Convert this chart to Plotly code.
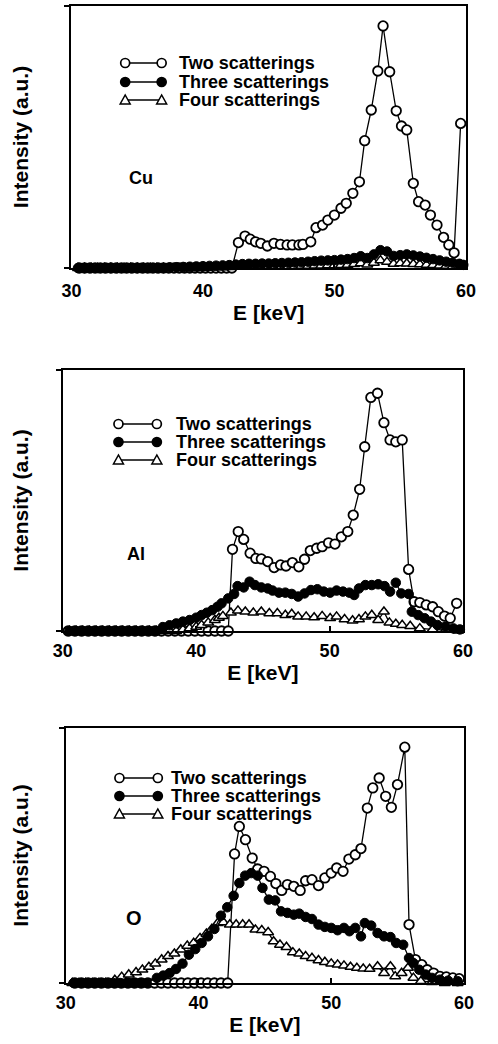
import plotly.graph_objects as go

W, H = 498, 1044

# ---------------- data ----------------
# Cu
cu_two_E = [30.6, 31.0, 31.4, 31.8, 32.2, 32.6, 33.0, 33.4, 33.8, 34.2, 34.6, 35.0, 35.4, 35.8, 36.2,
            36.6, 37.0, 37.4, 37.8, 38.2, 38.6, 39.0, 39.4, 39.8, 40.2, 40.6, 41.0, 41.4, 41.8, 42.2,
            42.7, 43.2, 43.6, 44.0, 44.4, 44.9, 45.4, 45.9, 46.4, 46.8, 47.3, 47.6, 48.2, 48.6, 49.1,
            49.5, 50.0, 50.5, 50.9, 51.4, 51.9, 52.3, 52.8, 53.3, 53.7, 54.2, 54.7, 55.1, 55.5, 56.0,
            56.4, 56.9, 57.3, 57.8, 58.3, 58.7, 59.1, 59.6]
cu_two_I = [0, 0, 0, 0, 0, 0, 0, 0, 0, 0, 0, 0, 0, 0, 0,
            0, 0, 0, 0, 0, 0, 0, 0, 0, 0, 0, 0, 0, 0, 0,
            9.7, 12.2, 11.0, 10.0, 9.4, 8.4, 9.4, 9.0, 8.8, 8.8, 8.8, 9.0, 10.0, 15.4, 16.4,
            18.3, 20.2, 22.8, 24.7, 28.5, 32.9, 48.6, 60.3, 75.2, 92.4, 74.9, 60.0, 54.2, 52.7, 32.3,
            25.3, 24.0, 20.2, 16.4, 11.7, 8.8, 5.8, 55.2]
cu_three_E = [30.5, 31.0, 31.5, 32.0, 32.5, 33.0, 33.5, 34.0, 34.5, 35.0, 35.5, 36.0, 36.5, 37.0,
              37.5, 38.0, 38.5, 39.0, 39.5, 40.0, 40.5, 41.0, 41.5, 42.0, 42.5, 43.0, 43.5, 44.0,
              44.5, 45.0, 45.5, 46.0, 46.5, 47.0, 47.5, 48.0, 48.5, 49.0, 49.5, 50.0, 50.5, 51.0,
              51.5, 52.0, 52.5, 53.0, 53.5, 54.0, 54.5, 55.0, 55.5, 56.0, 56.5, 57.0, 57.5, 58.0,
              58.5, 59.0, 59.5, 59.8]
cu_three_I = [0, 0, 0, 0, 0, 0, 0, 0, 0, 0, 0, 0, 0, 0,
              0.2, 0.3, 0.4, 0.5, 0.6, 0.7, 0.8, 0.9, 1.0, 1.1, 1.3, 1.5, 1.6, 1.6,
              1.7, 1.7, 1.8, 1.9, 2.0, 2.1, 2.2, 2.4, 2.6, 2.8, 2.9, 3.0, 3.2, 3.4,
              3.8, 4.5, 3.8, 5.2, 6.8, 6.3, 4.6, 4.9, 5.2, 4.8, 4.4, 3.9, 3.4, 2.9,
              2.4, 2.0, 1.6, 1.2]
cu_four_E = [30.5, 31.0, 31.5, 32.0, 32.5, 33.0, 33.5, 34.0, 34.5, 35.0, 35.5, 36.0, 36.5, 37.0,
             37.5, 38.0, 38.5, 39.0, 39.5, 40.0, 40.5, 41.0, 41.5, 42.0, 42.5, 43.0, 43.5, 44.0,
             44.5, 45.0, 45.5, 46.0, 46.5, 47.0, 47.5, 48.0, 48.5, 49.0, 49.5, 50.0, 50.5, 51.0,
             51.5, 52.0, 52.5, 53.0, 53.5, 54.0, 54.5, 55.0, 55.5, 56.0, 56.5, 57.0, 57.5, 58.0,
             58.5, 59.0, 59.5]
cu_four_I = [0, 0, 0, 0, 0, 0, 0, 0, 0, 0, 0, 0, 0, 0,
             0, 0, 0, 0, 0, 0, 0.1, 0.2, 0.2, 0.3, 0.4, 0.5, 0.5, 0.5,
             0.6, 0.6, 0.6, 0.7, 0.7, 0.7, 0.8, 0.8, 0.9, 0.9, 1.0, 1.0, 1.1, 1.2,
             1.5, 1.8, 1.3, 2.0, 2.9, 2.3, 1.6, 1.8, 1.7, 1.5, 1.4, 1.2, 1.1, 0.9,
             0.8, 0.6, 0.5]

# Al
al_two_E = [30.4, 30.9, 31.4, 31.9, 32.4, 32.9, 33.4, 33.9, 34.4, 34.9, 35.4, 35.9, 36.4, 36.9,
            37.4, 37.9, 38.4, 38.9, 39.4, 39.9, 40.4, 40.9, 41.4, 41.9, 42.4,
            42.72, 43.15, 43.56, 44.04, 44.47, 44.88, 45.36, 45.84, 46.32, 46.73, 47.21, 47.69,
            48.12, 48.55, 49.03, 49.44, 49.92, 50.40, 50.88, 51.36, 51.77, 52.25, 52.63, 53.09,
            53.59, 54.07, 54.53, 54.96, 55.44, 55.92, 56.33, 56.76, 57.24, 57.72, 58.15, 58.61,
            59.04, 59.52]
al_two_I = [0, 0, 0, 0, 0, 0, 0, 0, 0, 0, 0, 0, 0, 0,
            0, 0, 0, 0, 0, 0, 0, 0, 0, 0, 0,
            31.3, 38.1, 35.1, 29.8, 27.8, 27.6, 26.6, 24.3, 25.3, 24.9, 26.2, 24.6,
            27.5, 30.8, 31.7, 32.3, 33.8, 33.3, 36.1, 38.1, 44.4, 54.3, 70.6, 89.5,
            91.1, 79.8, 73.2, 72.5, 73.2, 23.6, 11.2, 10.9, 10.0, 9.3, 7.4, 5.7,
            4.9, 10.6]
al_three_E = [30.5, 31.0, 31.5, 32.0, 32.5, 33.0, 33.5, 34.0, 34.5, 35.0, 35.5, 36.0, 36.5, 37.0,
              37.5, 38.0, 38.5, 39.0, 39.5, 40.0, 40.4, 40.8, 41.2, 41.6, 41.9, 42.4, 42.84,
              43.1, 43.56, 44.0, 44.4, 44.88, 45.36, 45.72, 46.2, 46.68, 47.16, 47.64, 48.12,
              48.6, 49.08, 49.56, 50.04, 50.52, 51.0, 51.48, 51.84, 52.2, 52.68, 53.16, 53.64,
              54.12, 54.53, 54.96, 55.37, 55.92, 56.16, 56.64, 57.12, 57.6, 58.08, 58.68, 59.28,
              59.76]
al_three_I = [0, 0, 0, 0, 0, 0, 0, 0, 0, 0, 0, 0, 0, 0,
              1.5, 2.2, 2.9, 3.6, 4.2, 5.1, 6.1, 7.0, 8.0, 9.3, 10.6, 12.5, 14.2,
              17.2, 16.7, 18.9, 17.6, 16.7, 16.3, 15.5, 14.7, 14.7, 14.2, 13.2, 14.4,
              15.7, 16.0, 15.1, 14.7, 15.5, 15.1, 14.7, 13.8, 16.3, 17.6, 17.6, 17.9,
              17.2, 15.1, 18.5, 14.4, 14.2, 7.4, 6.1, 4.9, 3.6, 2.3, 1.7, 1.0,
              0.6]
al_four_E = [30.5, 31.0, 31.5, 32.0, 32.5, 33.0, 33.5, 34.0, 34.5, 35.0, 35.5, 36.0, 36.5, 37.0,
             37.5, 38.0, 38.5, 39.0, 39.5, 40.0, 40.4, 40.9, 41.4, 41.7, 42.0, 42.6, 43.13,
             43.68, 44.28, 44.88, 45.48, 46.08, 46.68, 47.16, 47.64, 48.24, 48.84, 49.44, 50.04,
             50.52, 51.12, 51.72, 52.2, 52.68, 53.16, 53.64, 54.07, 54.48, 54.96, 55.44, 56.04,
             56.76, 57.72, 58.68, 59.64]
al_four_I = [0, 0, 0, 0, 0, 0, 0, 0, 0, 0, 0, 0, 0, 0,
             0, 0, 0, 0.5, 1.0, 1.6, 2.3, 3.2, 4.2, 5.0, 5.7, 7.0, 7.8,
             7.4, 7.0, 7.4, 6.8, 6.8, 6.1, 6.5, 5.5, 5.5, 5.2, 5.7, 4.9,
             5.5, 4.5, 4.0, 4.5, 5.5, 6.1, 4.2, 7.4, 3.2, 2.7, 2.3, 1.9,
             1.0, 0.6, 0.4, 0.1]

# O
o_two_E = [30.7, 31.2, 31.7, 32.2, 32.7, 33.2, 33.7, 34.2, 34.7, 35.2, 35.7, 36.2, 36.7, 37.2,
           37.7, 38.2, 38.7, 39.2, 39.7, 40.2, 40.7, 41.2, 41.7, 42.2,
           42.72, 43.08, 43.54, 44.05, 44.46, 44.94, 45.42, 45.83, 46.27, 46.70, 47.18, 47.66,
           48.07, 48.55, 49.04, 49.52, 50.00, 50.41, 50.89, 51.33, 51.81, 52.24, 52.72, 53.13,
           53.61, 54.10, 54.53, 54.99, 55.54, 55.86, 56.34, 56.82, 57.23, 57.71, 58.19, 58.67,
           59.16, 59.64]
o_two_I = [0, 0, 0, 0, 0, 0, 0, 0, 0, 0, 0, 0, 0, 0,
           0, 0, 0, 0, 0, 0, 0, 0, 0, 0,
           50.6, 61.4, 56.2, 49.0, 44.7, 43.8, 41.8, 39.0, 36.3, 38.6, 37.9, 36.3,
           40.1, 40.5, 38.2, 41.2, 43.1, 45.1, 43.8, 48.6, 50.3, 52.7, 68.6, 76.5,
           80.4, 73.2, 68.9, 77.8, 92.5, 22.9, 9.2, 7.2, 5.2, 3.9, 2.6, 2.4,
           2.0, 1.7]
o_three_E = [30.6, 31.1, 31.6, 32.1, 32.6, 33.1, 33.6, 34.1, 34.6, 35.1, 35.6, 36.1,
             36.87, 37.35, 37.83, 38.31, 38.80, 39.28, 39.76, 40.24, 40.72, 41.20, 41.69, 42.17,
             42.65, 43.08, 43.52, 43.98, 44.46, 44.82, 45.30, 45.78, 46.22, 46.70, 47.18, 47.59,
             48.07, 48.55, 49.04, 49.52, 50.00, 50.48, 50.96, 51.37, 51.81, 52.24, 52.53, 53.01,
             53.49, 53.98, 54.46, 54.89, 55.42, 55.86, 56.19, 56.63, 57.11, 57.59, 58.19, 58.80,
             59.52]
o_three_I = [0, 0, 0, 0, 0, 0, 0, 0, 0, 0, 0, 0,
             2.0, 2.9, 3.9, 5.5, 7.6, 11.1, 13.3, 15.7, 18.3, 21.2, 26.4, 29.7,
             34.2, 39.2, 42.1, 43.1, 42.1, 37.3, 32.7, 32.4, 28.1, 27.5, 26.8, 27.2,
             25.9, 25.1, 22.9, 22.0, 21.6, 20.7, 21.6, 20.3, 21.6, 18.3, 23.5, 22.5,
             19.6, 18.3, 18.0, 15.7, 15.0, 9.8, 7.8, 5.2, 3.3, 2.0, 1.3, 0.9,
             0.7]
o_four_E = [30.5, 31.0, 31.5, 32.0, 32.5, 33.0,
            33.7, 34.22, 34.75, 35.30, 35.78, 36.27, 36.75, 37.23, 37.71, 38.19, 38.67, 39.16,
            39.64, 40.12, 40.60, 41.01, 41.45, 41.88, 42.36, 42.84, 43.33, 43.81, 44.29, 44.77,
            45.25, 45.66, 46.14, 46.63, 47.11, 47.59, 48.07, 48.55, 49.04, 49.52, 50.00, 50.48,
            50.96, 51.45, 51.93, 52.41, 52.89, 53.49, 53.98, 54.46, 54.82, 55.30, 55.78, 56.19,
            56.75, 57.59, 58.55, 59.52]
o_four_I = [0, 0, 0, 0, 0, 0,
            1.2, 2.4, 3.3, 4.2, 5.2, 6.3, 7.6, 9.2, 10.5, 11.5, 13.1, 14.6,
            15.7, 17.6, 19.3, 21.2, 23.5, 23.8, 22.9, 22.9, 22.9, 22.9, 20.9, 20.7,
            19.9, 16.3, 15.0, 14.1, 12.0, 11.5, 10.5, 9.8, 8.9, 8.2, 7.6, 7.2,
            6.8, 6.3, 5.9, 5.6, 5.5, 6.5, 3.9, 6.5, 2.6, 3.9, 5.9, 2.0,
            0.7, 0.3, 0, 0]

x_ticks = [30, 40, 50, 60]
x_tick_text = ["30", "40", "50", "60"]
series_names = ["Two scatterings", "Three scatterings", "Four scatterings"]
element_labels = ["Cu", "Al", "O"]
x_title = "E [keV]"
y_title = "Intensity (a.u.)"

# ---------------- styling / layout ----------------
FONT = "Liberation Sans, Arial, Helvetica, sans-serif"


def paper(px, py):
    return px / W, 1 - py / H


panels = [
    dict(sfx="", box=(64, 6, 475, 268), standoff_y=30, tls=5,
         data=[(cu_two_E, cu_two_I), (cu_three_E, cu_three_I), (cu_four_E, cu_four_I)],
         leg=(120, 158, 175, [63, 82, 100]), lab=(123, 178.5, 18)),
    dict(sfx="2", box=(55, 370, 472, 631), standoff_y=21, tls=2,
         data=[(al_two_E, al_two_I), (al_three_E, al_three_I), (al_four_E, al_four_I)],
         leg=(113, 153, 172, [424, 442, 460]), lab=(121, 553.5, 18)),
    dict(sfx="3", box=(58, 728, 473, 983), standoff_y=24, tls=2,
         data=[(o_two_E, o_two_I), (o_three_E, o_three_I), (o_four_E, o_four_I)],
         leg=(114, 154, 167, [778, 796, 814]), lab=(120, 917.5, 20)),
]

marker_styles = [
    dict(symbol="circle", size=9.5, color="white", line=dict(color="black", width=1.8)),
    dict(symbol="circle", size=9.5, color="black", line=dict(color="black", width=1)),
    dict(symbol="triangle-up", size=9.5, color="white", line=dict(color="black", width=1.5)),
]

fig = go.Figure()
layout = dict(width=W, height=H, autosize=False, margin=dict(l=0, r=0, t=0, b=0),
              paper_bgcolor="white", plot_bgcolor="white", showlegend=False,
              font=dict(family=FONT, color="black"))
shapes, annotations = [], []

for idx, p in enumerate(panels):
    s = p["sfx"]
    x0, y0, x1, y1 = p["box"]
    # draw order: two, four, three (filled on top)
    for k in [0, 2, 1]:
        E, I = p["data"][k]
        fig.add_trace(go.Scatter(x=E, y=I, mode="lines+markers", name=series_names[k],
                                 xaxis="x" + s, yaxis="y" + s, cliponaxis=False,
                                 line=dict(color="black", width=1.3),
                                 marker=marker_styles[k], showlegend=False))
    layout["xaxis" + s] = dict(
        domain=[x0 / W, x1 / W], anchor="y" + s, range=[30, 60],
        tickvals=x_ticks, ticktext=x_tick_text, ticks="inside", ticklen=5, tickwidth=1.5,
        tickcolor="black", showline=True, linewidth=2, linecolor="black", mirror=True,
        showgrid=False, zeroline=False, ticklabelstandoff=p["tls"],
        tickfont=dict(family=FONT, size=18, weight="bold", color="black"),
        title=dict(text=x_title, font=dict(family=FONT, size=21, weight="bold", color="black"), standoff=6))
    layout["yaxis" + s] = dict(
        domain=[1 - y1 / H, 1 - y0 / H], anchor="x" + s, range=[0, 100],
        tickvals=[0, 100], showticklabels=False, ticks="outside", ticklen=5, tickwidth=1.5,
        tickcolor="black", showline=True, linewidth=2, linecolor="black", mirror=True,
        showgrid=False, zeroline=False,
        title=dict(text=y_title, font=dict(family=FONT, size=21, weight="bold", color="black"),
                   standoff=p["standoff_y"]))

    # legend keys drawn as decorations (o—o style)
    lx0, lx1, tx, rows = p["leg"]
    for k, ry in enumerate(rows):
        ax0, ay = paper(lx0, ry)
        ax1, _ = paper(lx1, ry)
        shapes.append(dict(type="line", xref="paper", yref="paper", x0=ax0, x1=ax1, y0=ay, y1=ay,
                           line=dict(color="black", width=1.5), layer="above"))
        for ax in (ax0, ax1):
            if k < 2:
                shapes.append(dict(type="circle", xref="paper", yref="paper", xsizemode="pixel",
                                   ysizemode="pixel", xanchor=ax, yanchor=ay, x0=-4.5, x1=4.5, y0=-4.5, y1=4.5,
                                   fillcolor="white" if k == 0 else "black",
                                   line=dict(color="black", width=1.7), layer="above"))
            else:
                shapes.append(dict(type="path", xref="paper", yref="paper", xsizemode="pixel",
                                   ysizemode="pixel", xanchor=ax, yanchor=ay,
                                   path="M -5,-4 L 5,-4 L 0,5 Z", fillcolor="white",
                                   line=dict(color="black", width=1.5), layer="above"))
        tx_p, ty_p = paper(tx, ry)
        annotations.append(dict(text=series_names[k], xref="paper", yref="paper", x=tx_p, y=ty_p,
                                xanchor="left", yanchor="middle", showarrow=False, borderpad=0,
                                font=dict(family=FONT, size=18, weight="bold", color="black")))
    lxp, lyp, lfs = p["lab"]
    lx_p, ly_p = paper(lxp, lyp)
    annotations.append(dict(text=element_labels[idx], xref="paper", yref="paper",
                            x=lx_p, y=ly_p, xanchor="left", yanchor="middle", showarrow=False,
                            borderpad=0, font=dict(family=FONT, size=lfs, weight="bold", color="black")))

layout["shapes"] = shapes
layout["annotations"] = annotations
fig.update_layout(**layout)
fig.write_html("out.html")
